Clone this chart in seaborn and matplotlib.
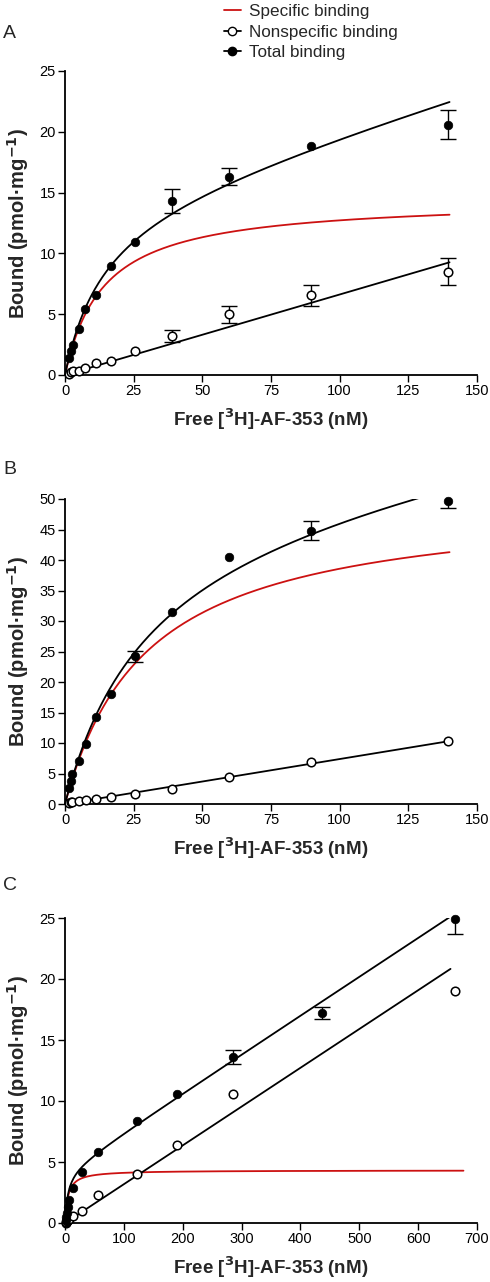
import numpy as np
import pandas as pd
import matplotlib
matplotlib.use("Agg")
import matplotlib.pyplot as plt
import seaborn as sns
from matplotlib.lines import Line2D

sns.set_style("ticks")
plt.rcParams['font.family'] = ['Liberation Sans', 'DejaVu Sans']

# ---------------- Data ----------------
# Panel A
a_x = [1.5, 2.2, 2.8, 5.2, 7.3, 11.3, 16.7, 25.6, 38.8, 59.6, 89.4, 139.5]
a_total = [1.4, 2.0, 2.5, 3.75, 5.4, 6.6, 9.0, 10.9, 14.3, 16.3, 18.8, 20.6]
a_total_err = [0, 0, 0, 0, 0, 0, 0, 0, 1.0, 0.7, 0, 1.2]
a_ns = [0.1, 0.25, 0.35, 0.35, 0.6, 1.0, 1.15, 1.95, 3.2, 5.0, 6.55, 8.5]
a_ns_err = [0, 0, 0, 0, 0, 0, 0, 0, 0.5, 0.7, 0.85, 1.1]
a_fit = dict(bmax=14.5, kd=14.0, ns=0.0662, xmax_black=140, xmax_red=140)

# Panel B
b_x = [1.5, 2.1, 2.6, 5.2, 7.5, 11.3, 16.7, 25.6, 38.8, 59.6, 89.4, 139.5]
b_total = [2.6, 3.7, 4.9, 7.0, 9.9, 14.2, 18.0, 24.2, 31.5, 40.5, 44.8, 49.6]
b_total_err = [0, 0, 0, 0, 0, 0, 0, 0.9, 0, 0, 1.6, 1.0]
b_ns = [0.2, 0.35, 0.4, 0.5, 0.65, 0.8, 1.1, 1.6, 2.4, 4.5, 6.9, 10.3]
b_ns_err = [0] * 12
b_fit = dict(bmax=50.1, kd=29.9, ns=0.0737, xmax_black=140, xmax_red=140)

# Panel C
c_x = [1.0, 2.3, 4.0, 5.7, 7.4, 13.6, 28.9, 55.5, 122.3, 189.7, 284.9, 436.0, 662.0]
c_total = [0.25, 0.5, 0.8, 1.3, 1.9, 2.9, 4.2, 5.8, 8.4, 10.6, 13.6, 17.2, 24.9]
c_total_err = [0, 0, 0, 0, 0, 0, 0, 0, 0, 0, 0.6, 0.5, 1.2]
c_ns = [0.03, 0.1, 0.2, 0.25, 0.3, 0.57, 1.0, 2.3, 4.0, 6.4, 10.6, None, 19.0]
c_ns_err = [0] * 13
c_fit = dict(bmax=4.32, kd=5.06, ns=0.0318, xmax_black=655, xmax_red=677)

panels = [
    ("A", a_x, a_total, a_total_err, a_ns, a_ns_err, a_fit, (0, 150), np.arange(0, 151, 25), (0, 25), np.arange(0, 26, 5)),
    ("B", b_x, b_total, b_total_err, b_ns, b_ns_err, b_fit, (0, 150), np.arange(0, 151, 25), (0, 50), np.arange(0, 51, 5)),
    ("C", c_x, c_total, c_total_err, c_ns, c_ns_err, c_fit, (0, 700), np.arange(0, 701, 100), (0, 25), np.arange(0, 26, 5)),
]

RED = "#cc1111"
fig = plt.figure(figsize=(4.9, 12.82), dpi=100)
W, H = 490, 1282
# axes pixel boxes (left, top, right, bottom)
boxes = [(65, 71, 477, 375), (65, 499, 477, 804), (65, 918, 477, 1223)]
letter_y = [34, 469, 886]

for (name, xs, tot, tot_e, ns, ns_e, fit, xlim, xt, ylim, yt), (l, t, r, b), ly in zip(panels, boxes, letter_y):
    ax = fig.add_axes([l / W, 1 - b / H, (r - l) / W, (b - t) / H])
    xb = np.linspace(0, fit["xmax_black"], 400)
    xr = np.linspace(0, fit["xmax_red"], 400)
    spec_r = fit["bmax"] * xr / (fit["kd"] + xr)
    spec_b = fit["bmax"] * xb / (fit["kd"] + xb)
    curves = pd.DataFrame({"x": xb, "nsline": fit["ns"] * xb, "totline": spec_b + fit["ns"] * xb})
    red = pd.DataFrame({"x": xr, "spec": spec_r})
    sns.lineplot(data=red, x="x", y="spec", ax=ax, color=RED, lw=1.3, zorder=2)
    sns.lineplot(data=curves, x="x", y="nsline", ax=ax, color="black", lw=1.3, zorder=2)
    sns.lineplot(data=curves, x="x", y="totline", ax=ax, color="black", lw=1.3, zorder=2)

    df = pd.DataFrame({"x": xs, "tot": tot, "toterr": tot_e, "nsv": ns, "nserr": ns_e})
    dfn = df.dropna(subset=["nsv"])
    for _, row in df[df["toterr"] > 0].iterrows():
        ax.errorbar(row["x"], row["tot"], yerr=row["toterr"], fmt="none", ecolor="black",
                    elinewidth=1.0, capsize=5.5, capthick=1.0, zorder=3)
    for _, row in dfn[dfn["nserr"] > 0].iterrows():
        ax.errorbar(row["x"], row["nsv"], yerr=row["nserr"], fmt="none", ecolor="black",
                    elinewidth=1.0, capsize=5.5, capthick=1.0, zorder=3)
    sns.scatterplot(data=dfn, x="x", y="nsv", ax=ax, marker="o", s=38,
                    facecolor="white", edgecolor="black", linewidth=1.1, zorder=4, clip_on=False)
    sns.scatterplot(data=df, x="x", y="tot", ax=ax, marker="o", s=38,
                    color="black", edgecolor="black", linewidth=0.5, zorder=5, clip_on=False)

    ax.set_xlim(*xlim)
    ax.set_ylim(*ylim)
    ax.set_xticks(xt)
    ax.set_yticks(yt)
    ax.tick_params(direction="out", length=5, width=1.0, labelsize=10.5, pad=1.5, colors="black")
    for s in ["top", "right"]:
        ax.spines[s].set_visible(False)
    for s in ["left", "bottom"]:
        ax.spines[s].set_linewidth(1.3)
        ax.spines[s].set_color("black")
    ax.set_xlabel("Free [$^{\\mathbf{3}}$H]-AF-353 (nM)", fontsize=13.5, fontweight="bold", labelpad=6)
    ax.set_ylabel("Bound (pmol·mg$^{\\mathbf{-1}}$)", fontsize=14.5, fontweight="bold", labelpad=6)
    fig.text(3 / W, 1 - ly / H, name, fontsize=14, va="center", ha="left")

handles = [
    Line2D([], [], color=RED, lw=1.3),
    Line2D([], [], color="black", lw=1.3, marker="o", markersize=6, markerfacecolor="white", markeredgecolor="black"),
    Line2D([], [], color="black", lw=1.3, marker="o", markersize=6, markerfacecolor="black"),
]
fig.legend(handles, ["Specific binding", "Nonspecific binding", "Total binding"],
           loc="upper left", bbox_to_anchor=(217 / W, 1 + 3 / H), frameon=False,
           fontsize=12.3, handlelength=1.0, handletextpad=0.5, labelspacing=0.34, borderaxespad=0)

fig.savefig("out.png", dpi=100)
